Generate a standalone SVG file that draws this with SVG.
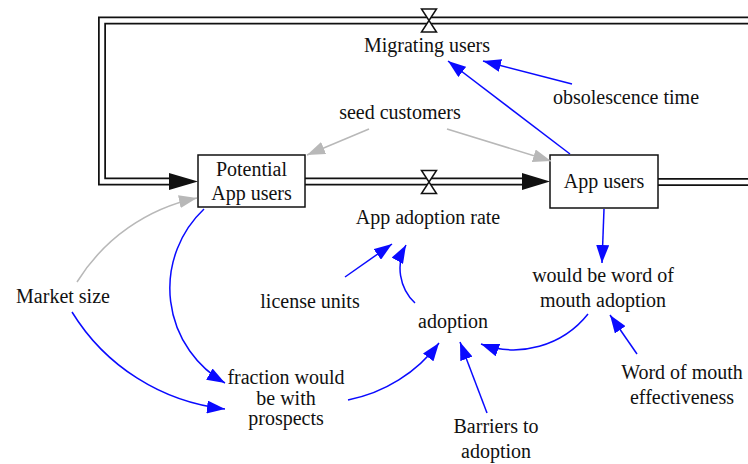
<svg xmlns="http://www.w3.org/2000/svg" width="748" height="464" viewBox="0 0 748 464">
  <style>
    text { font-family: "Liberation Serif", "Times New Roman", serif; font-size: 20px; fill: #111; text-anchor: middle; }
    .pipe-outer { fill: none; stroke: #111; stroke-width: 8; stroke-linejoin: miter; }
    .pipe-inner { fill: none; stroke: #fff; stroke-width: 4.5; stroke-linejoin: miter; }
    .valve { fill: #fff; stroke: #111; stroke-width: 1.5; stroke-linejoin: miter; }
    .flowhead { fill: #111; }
    .stock { fill: #fff; stroke: #111; stroke-width: 1.5; }
    .link { fill: none; stroke: #0a0aff; stroke-width: 1.5; marker-end: url(#headBlue); }
    .link-gray { fill: none; stroke: #b8b8b8; stroke-width: 1.5; marker-end: url(#headGray); }
  </style>
  <defs>
    <marker id="headBlue" viewBox="0 0 18 13" refX="18" refY="6.5" markerWidth="18" markerHeight="13" markerUnits="userSpaceOnUse" orient="auto">
      <path d="M0,0 L18,6.5 L0,13 Z" fill="#0a0aff"/>
    </marker>
    <marker id="headGray" viewBox="0 0 18 13" refX="18" refY="6.5" markerWidth="18" markerHeight="13" markerUnits="userSpaceOnUse" orient="auto">
      <path d="M0,0 L18,6.5 L0,13 Z" fill="#b8b8b8"/>
    </marker>
  </defs>

  <!-- material flows (double-line pipes) -->
  <g id="flows">
    <path class="pipe-outer" d="M748,20.5 L102,20.5 L102,181.5 L172,181.5"/>
    <path class="pipe-inner" d="M748,20.5 L102,20.5 L102,181.5 L172,181.5"/>
    <polygon class="flowhead" points="169,173 198,181.5 169,190"/>
    <path class="pipe-outer" d="M305,181.5 L524,181.5"/>
    <path class="pipe-inner" d="M305,181.5 L524,181.5"/>
    <polygon class="flowhead" points="522,173 550,181.5 522,190"/>
    <path class="pipe-outer" d="M658,182 L748,182"/>
    <path class="pipe-inner" d="M658,182 L748,182"/>
  </g>

  <!-- flow valves and rate names -->
  <g id="migrating-users">
    <path class="valve" d="M421.5,9 H436.5 L421.5,32 H436.5 Z"/>
    <text x="427" y="52">Migrating users</text>
  </g>
  <g id="app-adoption-rate">
    <path class="valve" d="M421.5,170.5 H436.5 L421.5,193.5 H436.5 Z"/>
    <text x="428" y="224">App adoption rate</text>
  </g>

  <!-- stocks -->
  <g id="potential-app-users">
    <rect class="stock" x="198" y="155" width="107" height="52"/>
    <text x="251.5" y="176">Potential</text>
    <text x="251.5" y="200">App users</text>
  </g>
  <g id="app-users">
    <rect class="stock" x="550" y="155" width="108" height="53"/>
    <text x="604" y="188">App users</text>
  </g>

  <!-- auxiliaries -->
  <g id="obsolescence-time"><text x="626" y="104">obsolescence time</text></g>
  <g id="seed-customers"><text x="400" y="119">seed customers</text></g>
  <g id="market-size"><text x="63" y="303">Market size</text></g>
  <g id="license-units"><text x="310" y="308">license units</text></g>
  <g id="adoption"><text x="453" y="328">adoption</text></g>
  <g id="would-be-word-of-mouth-adoption">
    <text x="603" y="282">would be word of</text>
    <text x="603" y="307">mouth adoption</text>
  </g>
  <g id="word-of-mouth-effectiveness">
    <text x="682" y="379">Word of mouth</text>
    <text x="682" y="404">effectiveness</text>
  </g>
  <g id="barriers-to-adoption">
    <text x="496" y="433">Barriers to</text>
    <text x="496" y="458">adoption</text>
  </g>
  <g id="fraction-would-be-with-prospects">
    <text x="286" y="384">fraction would</text>
    <text x="286" y="405">be with</text>
    <text x="286" y="425">prospects</text>
  </g>

  <!-- information links -->
  <g id="connectors">
    <path class="link-gray" d="M369,129 L307,155"/>
    <path class="link-gray" d="M447,129 L551,161"/>
    <path class="link-gray" d="M77,282 A186,186 0 0,1 197,198"/>
    <path class="link" d="M570,154 L448,61"/>
    <path class="link" d="M572,84 L483,61"/>
    <path class="link" d="M204,209 A109,109 0 0,0 225,383"/>
    <path class="link" d="M72,312 A206,206 0 0,0 225,409"/>
    <path class="link" d="M348,400 A149,149 0 0,0 439,343"/>
    <path class="link" d="M415,303 A48,48 0 0,1 406,245"/>
    <path class="link" d="M345,277 L392,244"/>
    <path class="link" d="M604,209 L602,263"/>
    <path class="link" d="M588,314 A95,95 0 0,1 481,344"/>
    <path class="link" d="M637,354 L610,315"/>
    <path class="link" d="M487,413 L460,342"/>
  </g>
</svg>
